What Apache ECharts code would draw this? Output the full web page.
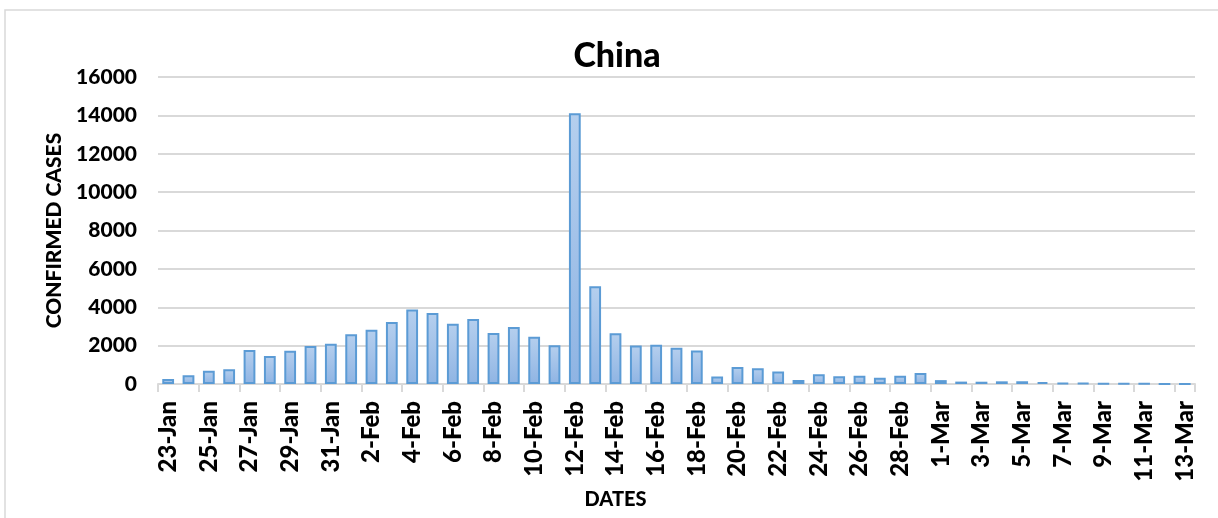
<!DOCTYPE html>
<html>
<head>
<meta charset="utf-8">
<style>
  html, body { margin: 0; padding: 0; background: #ffffff; }
  #chart { width: 1218px; height: 518px; }
</style>
<script src="https://cdn.jsdelivr.net/npm/echarts@6/dist/echarts.min.js"></script>
</head>
<body>
<div id="chart"></div>
<script>
// Daily new confirmed COVID-19 cases in China, 23 Jan – 13 Mar 2020
const dates = [
  '23-Jan','24-Jan','25-Jan','26-Jan','27-Jan','28-Jan','29-Jan','30-Jan','31-Jan',
  '1-Feb','2-Feb','3-Feb','4-Feb','5-Feb','6-Feb','7-Feb','8-Feb','9-Feb','10-Feb',
  '11-Feb','12-Feb','13-Feb','14-Feb','15-Feb','16-Feb','17-Feb','18-Feb','19-Feb',
  '20-Feb','21-Feb','22-Feb','23-Feb','24-Feb','25-Feb','26-Feb','27-Feb','28-Feb','29-Feb',
  '1-Mar','2-Mar','3-Mar','4-Mar','5-Mar','6-Mar','7-Mar','8-Mar','9-Mar','10-Mar',
  '11-Mar','12-Mar','13-Mar'
];
const confirmedCases = [
  259, 457, 688, 769, 1771, 1459, 1737, 1981, 2099,
  2589, 2825, 3235, 3884, 3694, 3143, 3385, 2652, 2973, 2467,
  2015, 14108, 5090, 2641, 2008, 2048, 1886, 1749, 391,
  889, 823, 648, 214, 508, 406, 433, 327, 427, 573,
  202, 125, 119, 139, 143, 99, 44, 40, 19, 24,
  15, 8, 11
];
const yTicks = { min: 0, max: 16000, step: 2000 };

const FONT = 'Lato, "Open Sans", sans-serif';
const WEIGHT = 900;
const chart = echarts.init(document.getElementById('chart'), null, { renderer: 'canvas' });

chart.setOption({
  backgroundColor: '#ffffff',
  animation: false,
  title: {
    text: 'China',
    left: 612,
    top: 34,
    textAlign: 'center',
    textStyle: { fontFamily: FONT, fontWeight: WEIGHT, fontSize: 34, color: '#000000' }
  },
  graphic: [{
    type: 'rect',
    shape: { x: 5, y: 10, width: 1240, height: 540 },
    style: { fill: 'none', stroke: '#d9d9d9', lineWidth: 1.5 },
    silent: true,
    z: -1
  }],
  grid: { left: 158, right: 23, top: 77, bottom: 134, containLabel: false },
  xAxis: {
    type: 'category',
    data: dates,
    boundaryGap: true,
    name: 'DATES',
    nameLocation: 'middle',
    nameGap: 97,
    nameTextStyle: {
      fontFamily: FONT, fontWeight: WEIGHT, fontSize: 20, color: '#000000',
      padding: [0, 122, 0, 0]
    },
    axisLine: { show: true, lineStyle: { color: '#d9d9d9', width: 2 } },
    axisTick: { show: true, interval: 1, length: 8, lineStyle: { color: '#d9d9d9', width: 2 } },
    axisLabel: {
      interval: 1,
      rotate: 90,
      margin: 17,
      fontFamily: FONT, fontWeight: WEIGHT, fontSize: 24, color: '#000000'
    },
    splitLine: { show: false }
  },
  yAxis: {
    type: 'value',
    min: yTicks.min,
    max: yTicks.max,
    interval: yTicks.step,
    name: 'CONFIRMED CASES',
    nameLocation: 'middle',
    nameGap: 92,
    nameRotate: 90,
    nameTextStyle: { fontFamily: FONT, fontWeight: WEIGHT, fontSize: 21, color: '#000000' },
    axisLine: { show: false },
    axisTick: { show: false },
    axisLabel: {
      margin: 21,
      formatter: (v) => String(v),
      fontFamily: FONT, fontWeight: WEIGHT, fontSize: 21, color: '#000000'
    },
    splitLine: { show: true, lineStyle: { color: '#d9d9d9', width: 2 } }
  },
  series: [{
    type: 'bar',
    data: confirmedCases,
    barCategoryGap: '42%',
    itemStyle: {
      color: new echarts.graphic.LinearGradient(0, 0, 0, 1, [
        { offset: 0, color: '#b5cfee' },
        { offset: 1, color: '#8fb4e3' }
      ]),
      borderColor: '#5b9bd5',
      borderWidth: 2
    }
  }]
});
</script>
</body>
</html>
